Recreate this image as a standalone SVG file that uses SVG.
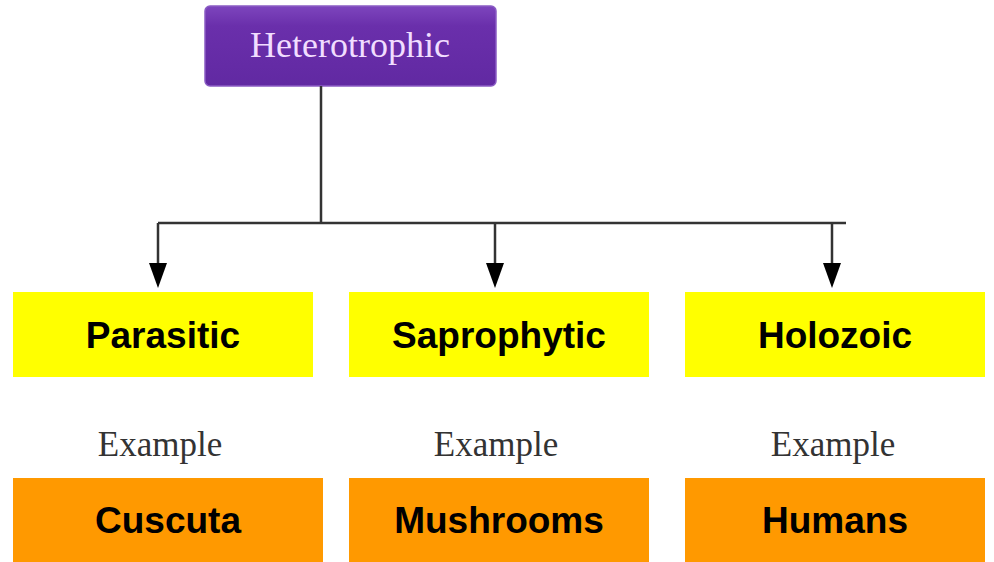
<svg xmlns="http://www.w3.org/2000/svg" width="994" height="562" viewBox="0 0 994 562">
<style>
.cat{fill:#FFFF00}
.ex{fill:#FF9900}
.bt{font-family:"Liberation Sans",Arial,sans-serif;font-weight:bold;font-size:37px;fill:#000;text-anchor:middle}
.st{font-family:"Liberation Serif","Times New Roman",serif;font-size:35px;fill:#333;text-anchor:middle}
.ln{stroke:#333;stroke-width:2.5;fill:none}
</style>
<defs>
<linearGradient id="pg" x1="0" y1="0" x2="0" y2="1">
<stop offset="0" stop-color="#7d45bd"/>
<stop offset="0.25" stop-color="#6a2fab"/>
<stop offset="1" stop-color="#6129a2"/>
</linearGradient>
<marker id="ah" viewBox="0 0 25 18" refX="0" refY="9" markerWidth="25" markerHeight="18" markerUnits="userSpaceOnUse" orient="auto">
<path d="M0,0 L25,9 L0,18 Z" fill="#000"/>
</marker>
</defs>
<g id="heterotrophic">
<rect x="205" y="6" width="291" height="80" rx="5" fill="url(#pg)" stroke="#8a5cc4" stroke-width="1.5"/>
<text x="350" y="57" font-family="'Liberation Serif','Times New Roman',serif" font-size="36" fill="#f1ddff" text-anchor="middle">Heterotrophic</text>
</g>
<g id="connectors">
<path class="ln" d="M321,86 V223 M158,223 H846"/>
<path class="ln" d="M158,223 V263" marker-end="url(#ah)"/>
<path class="ln" d="M495,223 V263" marker-end="url(#ah)"/>
<path class="ln" d="M832,223 V263" marker-end="url(#ah)"/>
</g>
<g id="parasitic">
<rect class="cat" x="13" y="292" width="300" height="85"/>
<text class="bt" x="163" y="348">Parasitic</text>
</g>
<g id="saprophytic">
<rect class="cat" x="349" y="292" width="300" height="85"/>
<text class="bt" x="499" y="348">Saprophytic</text>
</g>
<g id="holozoic">
<rect class="cat" x="685" y="292" width="300" height="85"/>
<text class="bt" x="835" y="348">Holozoic</text>
</g>
<g id="example-labels">
<text class="st" x="160" y="456">Example</text>
<text class="st" x="496" y="456">Example</text>
<text class="st" x="833" y="456">Example</text>
</g>
<g id="cuscuta">
<rect class="ex" x="13" y="478" width="310" height="84"/>
<text class="bt" x="168" y="533">Cuscuta</text>
</g>
<g id="mushrooms">
<rect class="ex" x="349" y="478" width="300" height="84"/>
<text class="bt" x="499" y="533">Mushrooms</text>
</g>
<g id="humans">
<rect class="ex" x="685" y="478" width="300" height="84"/>
<text class="bt" x="835" y="533">Humans</text>
</g>
</svg>
